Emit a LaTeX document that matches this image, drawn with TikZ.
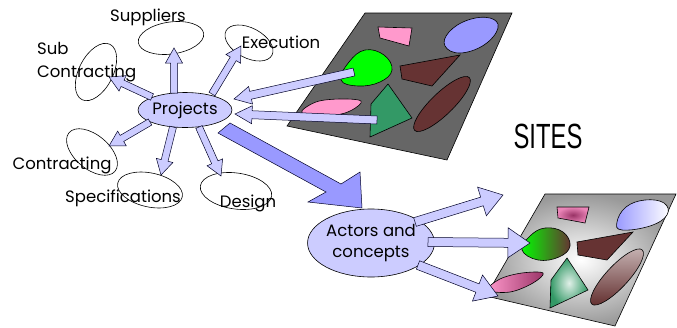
\documentclass[tikz,border=0pt]{standalone}
\usepackage{fontspec}
\usetikzlibrary{calc,shapes.geometric}
\newfontfamily\labelfont{Poppins}
\newfontfamily\titlefont[FakeStretch=0.68]{Liberation Sans}

\definecolor{lav}{HTML}{CCCCFF}
\definecolor{bigblue}{HTML}{9999FF}
\definecolor{sitegray}{HTML}{666666}
\definecolor{pinkc}{HTML}{FF99CC}
\definecolor{bluec}{HTML}{9999FF}
\definecolor{greenc}{HTML}{00FF00}
\definecolor{brownc}{HTML}{663333}
\definecolor{dgreen}{HTML}{339966}
\definecolor{maroon}{HTML}{993366}

\tikzset{
  lbl/.style={font=\labelfont\fontsize{16.5}{18}\selectfont, inner sep=0pt},
  topic/.style={ellipse, draw=black, line width=0.6pt, inner sep=0pt},
  hub/.style={ellipse, draw=black, line width=0.6pt, fill=lav, inner sep=0pt,
              font=\labelfont\fontsize{16.5}{21}\selectfont, align=center},
  blk/.style={draw=black!85!blue, line width=0.5pt, fill=lav, line join=miter},
  piece/.style={draw=black, line width=0.6pt},
}

% block arrow: #2 tail, #3 tip, #4 shaft half width, #5 head half width, #6 head length
\newcommand\blockarrow[6][]{%
  \coordinate (hb) at ($(#3)!#6!(#2)$);
  \draw[blk,#1] ($(#2)!#4!90:(#3)$) -- ($(hb)!#4!90:(#3)$) -- ($(hb)!#5!90:(#3)$)
    -- (#3) -- ($(hb)!#5!-90:(#3)$) -- ($(hb)!#4!-90:(#3)$) -- ($(#2)!#4!-90:(#3)$) -- cycle;
}

\begin{document}
\begin{tikzpicture}[x=1pt,y=-1pt]
\useasboundingbox (0,0) rectangle (677,327);

% ---------- upper site plan ----------
\draw[piece, fill=sitegray] (365,13) -- (512,13) -- (447,160) -- (287,126) -- cycle;
\draw[piece, fill=pinkc] (378,27) -- (412,28) -- (409,46) -- (380,38) -- cycle;
\draw[piece, fill=bluec] plot[smooth cycle, tension=0.7] coordinates
  {(460,53) (445,46) (449,32) (468,20) (490,18) (498,28) (484,45)};
\draw[piece, fill=greenc] plot[smooth cycle, tension=0.7] coordinates
  {(341,80) (349,62) (365,50) (384,55) (392,70) (380,82) (358,86)};
\draw[piece, fill=brownc] (400,66) -- (460,55) -- (432,86) -- (402,79) -- cycle;
\draw[piece, fill=pinkc] plot[smooth cycle, tension=0.6] coordinates
  {(302,113) (316,102) (340,99) (361,101) (352,110) (334,115)};
\draw[piece, fill=dgreen] (388,84) -- (412,118) -- (370,137) -- (371,104) -- cycle;
\draw[piece, fill=brownc, rotate around={44:(442,104)}] (442,104) ellipse [x radius=38pt, y radius=11pt];

% ---------- topic ellipses around the projects hub ----------
\node[hub, minimum width=94pt, minimum height=35pt] (projects) at (185,110) {Projects};

\node[topic, minimum width=66pt, minimum height=32pt, rotate=8] (supp) at (171,38) {};
\node[topic, minimum width=52pt, minimum height=30pt, rotate=-28] (exec) at (249,43) {};
\node[topic, minimum width=62pt, minimum height=34pt, rotate=63] (subc) at (96,72) {};
\node[topic, minimum width=60pt, minimum height=34pt, rotate=-40] (contr) at (92,152) {};
\node[topic, minimum width=66pt, minimum height=34pt, rotate=-12] (spec) at (150,190) {};
\node[topic, minimum width=72pt, minimum height=36pt, rotate=-8] (design) at (236,191) {};

% connector ends
\coordinate (pSuppT) at (174,93);   \coordinate (pSuppH) at (174,48);
\coordinate (pExecT) at (212,94);   \coordinate (pExecH) at (241,46);
\coordinate (pSubT)  at (152,97);   \coordinate (pSubH)  at (109,77);
\coordinate (pConT)  at (150,122);  \coordinate (pConH)  at (109,146);
\coordinate (pSpecT) at (173,127);  \coordinate (pSpecH) at (161,175);
\coordinate (pDesT)  at (199,127);  \coordinate (pDesH)  at (221,176);
\coordinate (sGreen) at (354,72);   \coordinate (pInA)   at (234,99);
\coordinate (sDkGrn) at (377,120);  \coordinate (pInB)   at (235,114);

\blockarrow{pSuppT}{pSuppH}{3.5pt}{8.5pt}{15pt}
\blockarrow{pExecT}{pExecH}{3.5pt}{8.5pt}{15pt}
\blockarrow{pSubT}{pSubH}{3.5pt}{8.5pt}{15pt}
\blockarrow{pConT}{pConH}{3.5pt}{8.5pt}{15pt}
\blockarrow{pSpecT}{pSpecH}{3.5pt}{8.5pt}{15pt}
\blockarrow{pDesT}{pDesH}{3.5pt}{8.5pt}{15pt}
\blockarrow{sGreen}{pInA}{4pt}{9pt}{17pt}
\blockarrow{sDkGrn}{pInB}{4pt}{9pt}{17pt}

% labels
\node[lbl] (tSupp) at (148,17) {Suppliers};
\node[lbl] (tExec) at (281,42) {Execution};
\node[lbl, anchor=west, align=left] (tSub) at (37,62) {Sub\\[5pt]Contracting};
\node[lbl] (tContr) at (62,165) {Contracting};
\node[lbl] (tSpec) at (123,198) {Specifications};
\node[lbl] (tDes) at (248,203) {Design};

% ---------- broad arrow towards the actors ----------
\draw[draw=black!85!blue, line width=0.5pt, fill=bigblue]
  (230,123) -- (341,184) -- (360,172) -- (362,208) -- (308,202) -- (326,192) -- (218,133) -- cycle;

\node[font=\titlefont\fontsize{35}{40}\selectfont, inner sep=0pt] (sites) at (548,136) {SITES};

% ---------- lower, shaded site plan ----------
\shade[draw=black, line width=0.6pt, inner color=white, outer color=black!40]
  (545,194) -- (676,194) -- (615,326) -- (486,296) -- cycle;
\shade[piece, inner color=maroon, outer color=pinkc!80!maroon]
  (557,207) -- (589,207) -- (585,223) -- (558,218) -- cycle;
\shade[piece, left color=bluec, right color=white] plot[smooth cycle, tension=0.7] coordinates
  {(622,230) (617,222) (626,207) (645,200) (664,203) (667,215) (650,226)};
\shade[piece, left color=greenc, right color=brownc] plot[smooth cycle, tension=0.7] coordinates
  {(522,250) (530,236) (545,228) (563,232) (570,246) (559,257) (538,260)};
\draw[piece, fill=brownc] (577,242) -- (633,232) -- (607,260) -- (578,255) -- cycle;
\shade[piece, left color=pinkc, right color=maroon] plot[smooth cycle, tension=0.6] coordinates
  {(488,290) (500,279) (522,273) (543,273) (533,283) (510,292)};
\shade[piece, inner color=white!85!dgreen, outer color=dgreen] (567,258) -- (588,290) -- (550,308) -- (551,280) -- cycle;
\shade[piece, rotate around={47:(617,277)}, top color=brownc!40!white, bottom color=brownc]
  (617,277) ellipse [x radius=37pt, y radius=11pt];

% ---------- actors and concepts ----------
\node[hub, minimum width=118pt, minimum height=68pt] (actors) at (371,243) {Actors and\\concepts};

\coordinate (aUpT) at (415,222);  \coordinate (aUpH) at (503,195);
\coordinate (aMidT) at (428,242); \coordinate (aMidH) at (530,243);
\coordinate (aLowT) at (418,265); \coordinate (aLowH) at (498,296);
\blockarrow{aUpT}{aUpH}{4.5pt}{15pt}{22pt}
\blockarrow{aMidT}{aMidH}{4.5pt}{15pt}{22pt}
\blockarrow{aLowT}{aLowH}{4.5pt}{14pt}{22pt}
\end{tikzpicture}
\end{document}
